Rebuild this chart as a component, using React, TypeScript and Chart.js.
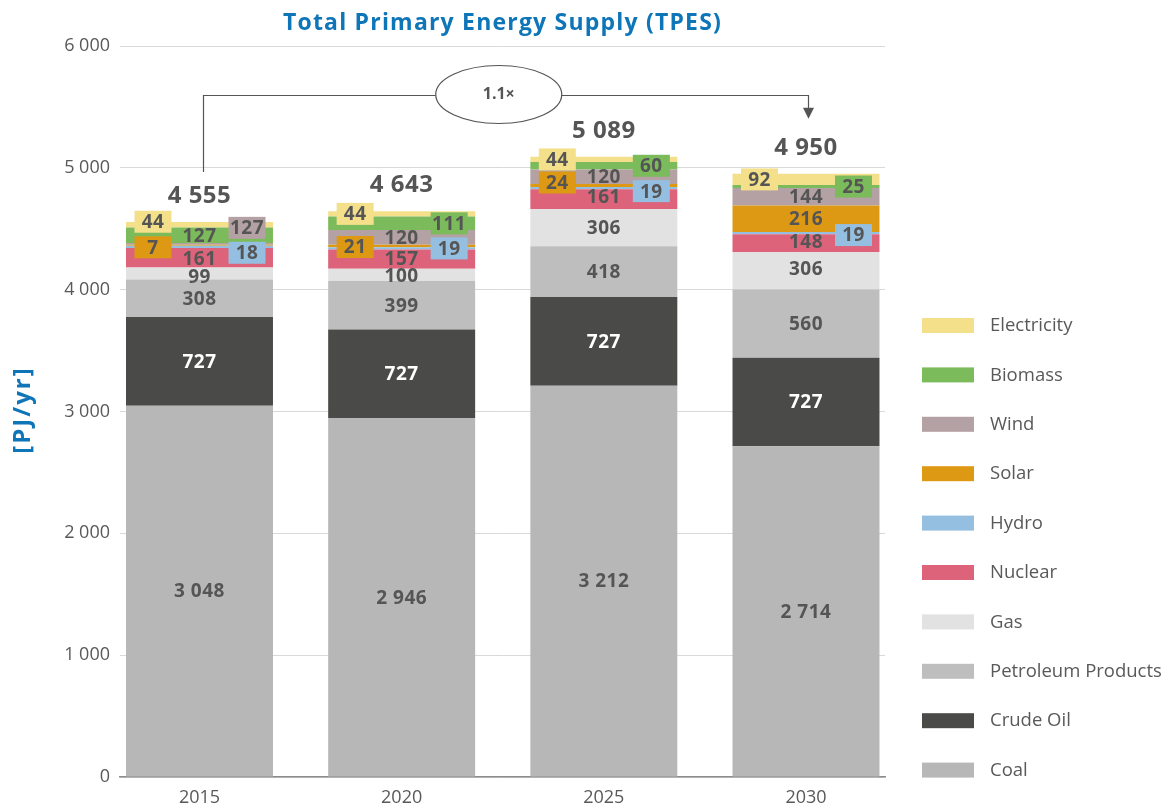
import React, { useEffect, useRef } from 'react';
import { Chart, registerables } from 'chart.js';

Chart.register(...registerables);

// ---------- data ----------
const years = ['2015', '2020', '2025', '2030'];
const coal = [3048, 2946, 3212, 2714];
const crudeOil = [727, 727, 727, 727];
const petroleumProducts = [308, 399, 418, 560];
const gas = [99, 100, 306, 306];
const nuclear = [161, 157, 161, 148];
const hydro = [18, 19, 19, 19];
const solar = [7, 21, 24, 216];
const wind = [16, 120, 120, 144];
const windShownLabels = [127, 120, 120, 144];
const biomass = [127, 111, 60, 25];
const electricity = [44, 44, 44, 92];
const totals = [4555, 4643, 5089, 4950];
const growthText = '1.1×';
const yMax = 6000;
const yStep = 1000;

// ---------- styling / layout ----------
const FONT = '"Open Sans", "DejaVu Sans", sans-serif';
const TEXT = '#555555';
const AXIS_TEXT = '#595959';
const BLUE = '#0E76B8';

type Pos = 'c' | 'l' | 'r';
interface Series {
  name: string;
  values: number[];
  shown?: number[];
  color: string;
  textColor: string;
  pos: Pos[];
  dy: number[];
}

const series: Series[] = [
  { name: 'Coal', values: coal, color: '#B7B7B7', textColor: TEXT, pos: ['c', 'c', 'c', 'c'], dy: [0, 0, 0, 0] },
  { name: 'Crude Oil', values: crudeOil, color: '#4A4A48', textColor: '#FFFFFF', pos: ['c', 'c', 'c', 'c'], dy: [0, 0, 0, 0] },
  { name: 'Petroleum Products', values: petroleumProducts, color: '#BDBEBD', textColor: TEXT, pos: ['c', 'c', 'c', 'c'], dy: [0, 0, 0, 0] },
  { name: 'Gas', values: gas, color: '#E2E2E2', textColor: TEXT, pos: ['c', 'c', 'c', 'c'], dy: [3, 1, 0, -2] },
  { name: 'Nuclear', values: nuclear, color: '#DC637A', textColor: TEXT, pos: ['c', 'c', 'c', 'c'], dy: [1, -1, -2, -2] },
  { name: 'Hydro', values: hydro, color: '#95BFE0', textColor: TEXT, pos: ['r', 'r', 'r', 'r'], dy: [6, 0, 3, 2] },
  { name: 'Solar', values: solar, color: '#DD9914', textColor: TEXT, pos: ['l', 'l', 'l', 'c'], dy: [2, 1, -3, 0] },
  { name: 'Wind', values: wind, shown: windShownLabels, color: '#B4A1A3', textColor: TEXT, pos: ['r', 'c', 'c', 'c'], dy: [-16, 0, 0, 0] },
  { name: 'Biomass', values: biomass, color: '#7CBB5B', textColor: TEXT, pos: ['c', 'r', 'r', 'r'], dy: [0, 0, 0, 0] },
  { name: 'Electricity', values: electricity, color: '#F4E08B', textColor: TEXT, pos: ['l', 'l', 'l', 'l'], dy: [-3, 0, 0, 0] },
];

const fmt = (v: number) => String(Math.round(v)).replace(/\B(?=(\d{3})+(?!\d))/g, ' ');

const overlayPlugin = {
  id: 'overlay',
  afterDatasetsDraw(chart: any) {
    const ctx = chart.ctx;
    ctx.save();
    // segment labels
    series.forEach((s, di) => {
      const meta = chart.getDatasetMeta(di);
      meta.data.forEach((el: any, j: number) => {
        const pos = s.pos[j];
        const cy = (el.y + el.base) / 2 + s.dy[j];
        let cx = el.x;
        if (pos === 'l') cx = el.x - 46.5;
        if (pos === 'r') cx = el.x + 47.5;
        const txt = fmt(s.shown ? s.shown[j] : s.values[j]);
        if (pos !== 'c') {
          ctx.fillStyle = s.color;
          ctx.fillRect(cx - 18.5, cy - 11, 37, 22);
        }
        ctx.fillStyle = s.textColor;
        ctx.font = `bold 19px ${FONT}`;
        ctx.textAlign = 'center';
        ctx.textBaseline = 'middle';
        (ctx as any).letterSpacing = '0.5px';
        ctx.fillText(txt, cx, cy + 1);
        (ctx as any).letterSpacing = '0px';
      });
    });
    // totals
    const topMeta = chart.getDatasetMeta(series.length - 1);
    topMeta.data.forEach((el: any, j: number) => {
      ctx.fillStyle = TEXT;
      ctx.font = `bold 24px ${FONT}`;
      ctx.textAlign = 'center';
      ctx.textBaseline = 'middle';
      (ctx as any).letterSpacing = '0.5px';
      ctx.fillText(fmt(totals[j]), el.x, el.y - 26);
      (ctx as any).letterSpacing = '0px';
    });
    ctx.restore();
  },
  afterDraw(chart: any) {
    const ctx = chart.ctx;
    const area = chart.chartArea;
    const yScale = chart.scales.y;
    ctx.save();
    // title
    ctx.fillStyle = BLUE;
    ctx.font = `bold 23px ${FONT}`;
    ctx.textAlign = 'center';
    ctx.textBaseline = 'middle';
    (ctx as any).letterSpacing = '1.2px';
    ctx.fillText('Total Primary Energy Supply (TPES)', (area.left + area.right) / 2, 23);
    // y title
    ctx.save();
    ctx.translate(23, 410);
    ctx.rotate(-Math.PI / 2);
    ctx.font = `bold 24px ${FONT}`;
    (ctx as any).letterSpacing = '2px';
    ctx.fillText('[PJ/yr]', 0, 0);
    ctx.restore();
    (ctx as any).letterSpacing = '0px';

    // growth annotation
    const topMeta = chart.getDatasetMeta(series.length - 1);
    const b0 = topMeta.data[0];
    const b1 = topMeta.data[1];
    const b2 = topMeta.data[2];
    const b3 = topMeta.data[3];
    const yLine = Math.round(yScale.getPixelForValue(5600)) + 0.5;
    const xL = Math.round(b0.x + 3.5) + 0.5;
    const xR = Math.round(b3.x + 2) + 0.5;
    const ex = (b1.x + b2.x) / 2 - 4;
    const rx = 63;
    const ry = 29;
    ctx.strokeStyle = '#555555';
    ctx.lineWidth = 1.2;
    ctx.beginPath();
    ctx.moveTo(xL, b0.y - 50);
    ctx.lineTo(xL, yLine);
    ctx.lineTo(ex - rx, yLine);
    ctx.moveTo(ex + rx, yLine);
    ctx.lineTo(xR, yLine);
    ctx.lineTo(xR, b3.y - 64);
    ctx.stroke();
    ctx.fillStyle = '#555555';
    ctx.beginPath();
    ctx.moveTo(xR - 5.5, b3.y - 66);
    ctx.lineTo(xR + 5.5, b3.y - 66);
    ctx.lineTo(xR, b3.y - 55);
    ctx.closePath();
    ctx.fill();
    ctx.beginPath();
    ctx.ellipse(ex, yLine - 1, rx, ry, 0, 0, Math.PI * 2);
    ctx.fillStyle = '#FFFFFF';
    ctx.fill();
    ctx.stroke();
    ctx.fillStyle = TEXT;
    ctx.font = `bold 16px ${FONT}`;
    ctx.textAlign = 'center';
    ctx.textBaseline = 'middle';
    ctx.fillText(growthText, ex, yLine - 1);

    // legend
    const legendItems = [...series].reverse();
    legendItems.forEach((s, i) => {
      const top = 318 + i * 49.4;
      ctx.fillStyle = s.color;
      ctx.fillRect(922, top, 52, 15);
      ctx.fillStyle = AXIS_TEXT;
      ctx.font = `18.5px ${FONT}`;
      ctx.textAlign = 'left';
      ctx.textBaseline = 'middle';
      ctx.fillText(s.name, 990, top + 8);
    });
    ctx.restore();
  },
};

export default function App() {
  const canvasRef = useRef<HTMLCanvasElement | null>(null);

  useEffect(() => {
    document.body.style.margin = '0';
    const canvas = canvasRef.current;
    if (!canvas) return;
    const chart = new Chart(canvas, {
      type: 'bar',
      data: {
        datasets: series.map((s) => ({
          label: s.name,
          data: s.values.map((v, i) => ({ x: i, y: v })),
          backgroundColor: s.color,
          borderWidth: 0,
          barPercentage: 0.727,
          categoryPercentage: 1,
        })),
      },
      options: {
        responsive: false,
        animation: false,
        devicePixelRatio: 1,
        layout: { padding: { top: 46, right: 285, bottom: 0, left: 0 } },
        plugins: {
          legend: { display: false },
          tooltip: { enabled: false },
          title: { display: false },
        },
        scales: {
          x: {
            type: 'linear',
            stacked: true,
            offset: false,
            min: -0.3932,
            max: 3.3908,
            grid: { display: false, drawTicks: false },
            border: { display: true, color: '#8C8C8C', width: 1.5 },
            afterBuildTicks: (scale: any) => {
              scale.ticks = years.map((_, i) => ({ value: i }));
            },
            afterFit: (scale: any) => {
              scale.height = 35;
            },
            ticks: {
              autoSkip: false,
              maxRotation: 0,
              padding: 10,
              color: AXIS_TEXT,
              font: { family: FONT, size: 18 },
              callback: (v: any) => years[v] ?? '',
            },
          },
          y: {
            stacked: true,
            min: 0,
            max: yMax,
            grid: { color: '#D9D9D9', drawTicks: false, lineWidth: 1 },
            border: { display: false },
            afterFit: (scale: any) => {
              scale.width = 120;
            },
            ticks: {
              stepSize: yStep,
              padding: 10,
              color: AXIS_TEXT,
              font: { family: FONT, size: 18 },
              callback: (v: any) => fmt(Number(v)),
            },
          },
        },
      },
      plugins: [overlayPlugin],
    } as any);
    return () => chart.destroy();
  }, []);

  return (
    <div style={{ width: 1170, height: 812 }}>
      <canvas ref={canvasRef} width={1170} height={812} style={{ display: 'block' }} />
    </div>
  );
}
